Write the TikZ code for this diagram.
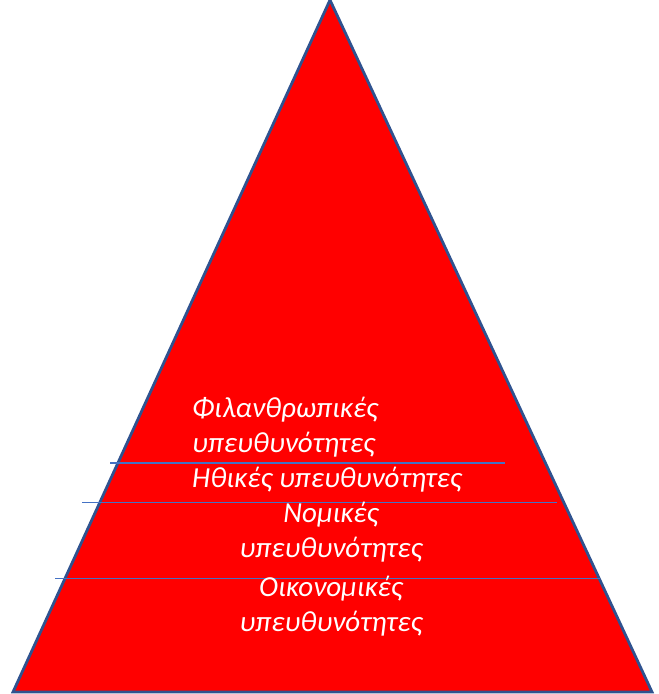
\documentclass[tikz,border=0pt]{standalone}
\usepackage{fontspec}
\setmainfont{Carlito}
\usetikzlibrary{positioning}
\definecolor{pyrfill}{RGB}{255,0,0}
\definecolor{pyredge}{RGB}{47,82,143}
\definecolor{pyrline}{RGB}{68,114,196}
\tikzset{
  tier/.style={text=white,font=\fontsize{29}{35}\selectfont\itshape,inner sep=0pt},
  divider/.style={draw=pyrline,line width=1.1pt}
}
\begin{document}
\begin{tikzpicture}[x=1pt,y=-1pt]
  \useasboundingbox (0,0) rectangle (659,694);
  % pyramid
  \draw[fill=pyrfill,draw=pyredge,line width=2.8pt] (13,692) -- (330,0) -- (652,692) -- cycle;
  % tier dividers
  \draw[divider] (110,463) -- (505,463);
  \draw[divider] (82,502.5) -- (557,502.5);
  \draw[divider] (55,578.5) -- (600,578.5);
  % tier labels (base = last line)
  \node[tier,align=left,anchor=base west] (phil) at (192,452) {Φιλανθρωπικές\\υπευθυνότητες};
  \node[tier,anchor=base west] (ethic) at (192,487) {Ηθικές υπευθυνότητες};
  \node[tier,align=center,anchor=base] (legal) at (331,557) {Νομικές\\υπευθυνότητες};
  \node[tier,align=center,anchor=base] (econ) at (331,631) {Οικονομικές\\υπευθυνότητες};
\end{tikzpicture}
\end{document}
